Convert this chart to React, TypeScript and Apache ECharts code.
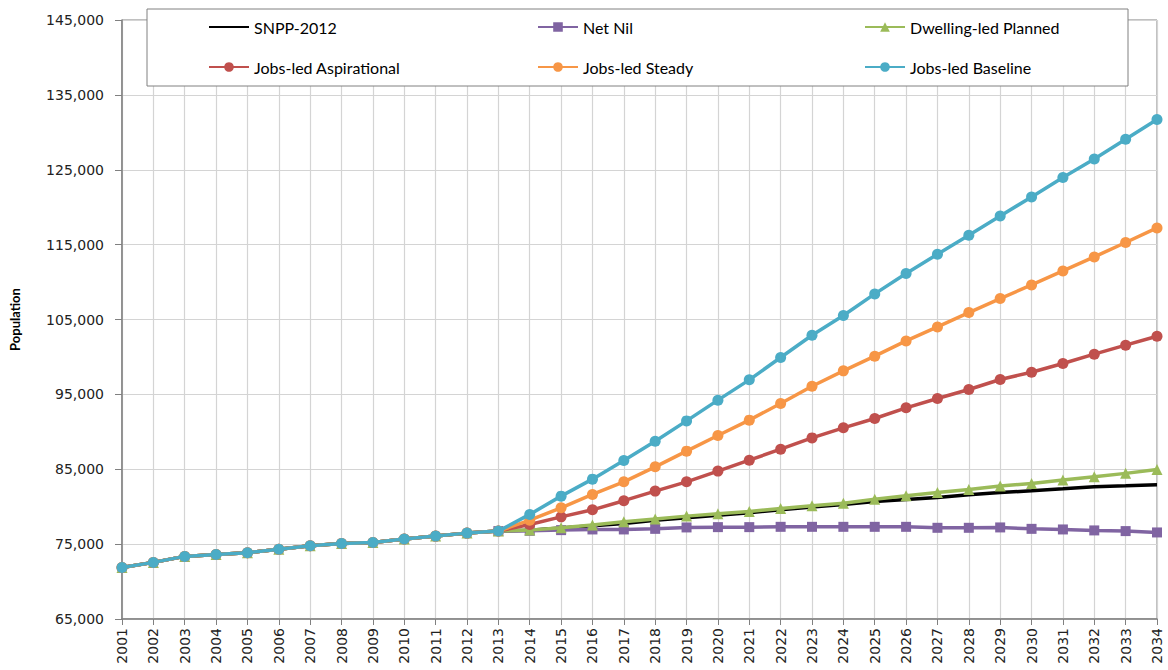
import React, { useEffect, useRef } from "react";
import * as echarts from "echarts";

const years: string[] = [];
for (let y = 2001; y <= 2034; y++) years.push(String(y));

// 2001-2013 shared history
const history = [71890, 72560, 73360, 73620, 73840, 74330, 74770, 75090, 75230, 75670, 76070, 76470, 76740];
// 2014-2034 projections
const snpp = [76850, 77150, 77450, 77760, 78200, 78530, 78850, 79200, 79600, 79950, 80300, 80700, 80970, 81230, 81580, 81900, 82120, 82380, 82650, 82780, 82920];
const netNil = [76780, 76870, 76960, 76960, 77040, 77230, 77270, 77270, 77310, 77310, 77310, 77310, 77310, 77180, 77180, 77230, 77040, 76960, 76830, 76740, 76560];
const dwelling = [76870, 77180, 77540, 77980, 78340, 78740, 79050, 79360, 79770, 80110, 80470, 81000, 81450, 81900, 82300, 82750, 83100, 83550, 84000, 84450, 84970];
const aspirational = [77630, 78640, 79580, 80800, 82080, 83320, 84750, 86210, 87680, 89190, 90530, 91780, 93200, 94450, 95650, 96990, 97960, 99120, 100370, 101570, 102770];
const steady = [78200, 79850, 81640, 83320, 85320, 87420, 89510, 91560, 93780, 96090, 98140, 100100, 102140, 104010, 105930, 107800, 109620, 111490, 113360, 115280, 117230];
const baseline = [78970, 81410, 83680, 86170, 88750, 91460, 94230, 96940, 99930, 102900, 105530, 108420, 111140, 113720, 116250, 118830, 121370, 123960, 126440, 129070, 131700];

const seriesNames = ["SNPP-2012", "Net Nil", "Dwelling-led Planned", "Jobs-led Aspirational", "Jobs-led Steady", "Jobs-led Baseline"];
const seriesColors = ["#000000", "#8064a2", "#9bbb59", "#c0504d", "#f79646", "#4bacc6"];
const seriesSymbols = ["none", "rect", "triangle", "circle", "circle", "circle"];
const seriesSizes = [0, 10, 11, 11, 11, 11];
const seriesValues = [snpp, netNil, dwelling, aspirational, steady, baseline];
// whether the series carries the 2001-2012 history (Net Nil starts at 2013)
const seriesFullHistory = [true, false, true, true, true, true];

export default function App() {
  const ref = useRef<HTMLDivElement>(null);
  useEffect(() => {
    if (!ref.current) return;
    const chart = echarts.init(ref.current, undefined, { renderer: "svg" });
    const legendBase = {
      orient: "vertical" as const,
      top: 19,
      padding: 0,
      itemGap: 24,
      itemWidth: 40,
      itemHeight: 12,
      z: 100,
      textStyle: { fontFamily: "Lato", fontSize: 16, color: "#000" },
    };
    const legendItem = (i: number) =>
      i === 0 ? { name: seriesNames[i], itemStyle: { opacity: 0 } } : { name: seriesNames[i] };
    chart.setOption({
      animation: false,
      backgroundColor: "#fff",
      grid: { left: 121, right: 11, top: 20, bottom: 51, show: true, borderColor: "#808080", borderWidth: 1 },
      legend: [
        { ...legendBase, left: 208, data: [legendItem(0), legendItem(3)] },
        { ...legendBase, left: 537, data: [legendItem(1), legendItem(4)] },
        { ...legendBase, left: 864, data: [legendItem(2), legendItem(5)] },
      ],
      graphic: [
        {
          type: "rect",
          z: 50,
          shape: { x: 147, y: 9, width: 981, height: 77 },
          style: { fill: "#fff", stroke: "#808080", lineWidth: 1 },
        },
      ],
      xAxis: {
        type: "category",
        data: years,
        boundaryGap: false,
        axisLine: { lineStyle: { color: "#808080", width: 1.5 } },
        axisTick: { show: true, inside: false, length: 6, lineStyle: { color: "#808080" } },
        axisLabel: { rotate: 90, margin: 9, fontFamily: "DejaVu Sans", fontSize: 14, color: "#222", interval: 0 },
        splitLine: { show: true, lineStyle: { color: "#d4d4d4", width: 1.2 } },
      },
      yAxis: {
        type: "value",
        min: 65000,
        max: 145000,
        interval: 10000,
        name: "Population",
        nameLocation: "middle",
        nameGap: 101,
        nameTextStyle: { fontFamily: "Lato", fontSize: 13, fontWeight: "bold", color: "#000" },
        axisLine: { show: true, lineStyle: { color: "#808080", width: 1.5 } },
        axisTick: { show: true, inside: false, length: 7, lineStyle: { color: "#808080" } },
        axisLabel: {
          margin: 18,
          fontFamily: "DejaVu Sans",
          fontSize: 14,
          color: "#222",
          formatter: (v: number) => v.toLocaleString("en-US"),
        },
        splitLine: { show: true, lineStyle: { color: "#d4d4d4", width: 1.2 } },
      },
      series: seriesNames.map((name, i) => ({
        name,
        type: "line",
        data: history
          .map((v, k) => (seriesFullHistory[i] || k === history.length - 1 ? v : null))
          .concat(seriesValues[i]),
        symbol: seriesSymbols[i],
        symbolSize: seriesSizes[i],
        showSymbol: seriesSymbols[i] !== "none",
        color: seriesColors[i],
        lineStyle: { color: seriesColors[i], width: 3.5 },
        itemStyle: { color: seriesColors[i] },
        z: 2 + i,
      })),
    });
    return () => chart.dispose();
  }, []);
  return <div ref={ref} style={{ position: "fixed", left: 0, top: 0, width: 1168, height: 670 }} />;
}
